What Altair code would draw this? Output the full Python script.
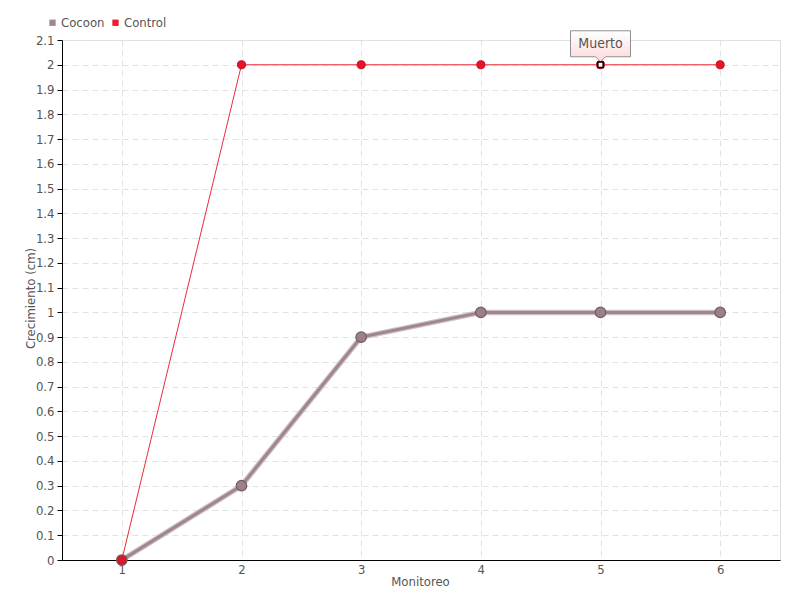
import altair as alt
import pandas as pd

# ---- data ----
monitoreo = [1, 2, 3, 4, 5, 6]
cocoon = [0, 0.3, 0.9, 1, 1, 1]
control = [0, 2, 2, 2, 2, 2]
series = ["Cocoon", "Control"]
series_colors = ["#a0878f", "#ee1c2e"]
y_ticks = [0, 0.1, 0.2, 0.3, 0.4, 0.5, 0.6, 0.7, 0.8, 0.9, 1, 1.1, 1.2, 1.3,
           1.4, 1.5, 1.6, 1.7, 1.8, 1.9, 2, 2.1]
note_x = [5]
note_y = [2]
note_text = ["Muerto"]

df = pd.DataFrame({
    "Monitoreo": monitoreo * 2,
    "Crecimiento": cocoon + control,
    "Serie": ["Cocoon"] * len(monitoreo) + ["Control"] * len(monitoreo),
})
note_df = pd.DataFrame({"Monitoreo": note_x, "Crecimiento": note_y, "txt": note_text})

FONT = "DejaVu Sans Condensed, DejaVu Sans, sans-serif"
TXT = "#555555"

X = alt.X("Monitoreo:O", scale=alt.Scale(type="point", padding=0.5),
          axis=alt.Axis(title="Monitoreo", labelAngle=0, ticks=False,
                        grid=True, gridDash=[6, 4], gridColor="#e2e2e2",
                        domainColor="#000000", labelFontSize=13, labelColor=TXT,
                        labelFont=FONT, labelPadding=3,
                        titleFont=FONT, titleFontSize=13, titleFontWeight="normal",
                        titleColor=TXT, titleX=358, titleY=21,
                        titleBaseline="middle", titleAlign="center"))
Y = alt.Y("Crecimiento:Q", scale=alt.Scale(domain=[0, 2.1], nice=False),
          axis=alt.Axis(title="Crecimiento (cm)", values=y_ticks, format="~g",
                        grid=True, gridDash=[6, 4], gridColor="#e2e2e2",
                        domainColor="#000000", tickColor="#000000", tickSize=5,
                        labelFontSize=13, labelColor=TXT, labelFont=FONT,
                        labelPadding=3,
                        titleFont=FONT, titleFontSize=13, titleFontWeight="normal",
                        titleColor=TXT, titleX=-32, titleY=258, titleAngle=270,
                        titleBaseline="middle", titleAlign="center"))

base = alt.Chart(df).encode(x=X, y=Y)

legend_layer = base.mark_square(size=0, filled=True, opacity=1).encode(
    fill=alt.Fill("Serie:N", scale=alt.Scale(domain=series, range=series_colors),
                  legend=alt.Legend(title=None, orient="none", legendX=-16, legendY=-24,
                                    direction="horizontal", symbolType="square",
                                    symbolSize=40, symbolStrokeWidth=0,
                                    symbolOpacity=1,
                                    labelFont=FONT, labelFontSize=13, labelColor=TXT,
                                    labelOffset=2, columnPadding=4))
)

cocoon_halo = base.transform_filter(alt.datum.Serie == "Cocoon").mark_line(
    color="#cdbfc4", strokeWidth=5.5)
cocoon_line = base.transform_filter(alt.datum.Serie == "Cocoon").mark_line(
    color="#9f858e", strokeWidth=3)
cocoon_pts = base.transform_filter(alt.datum.Serie == "Cocoon").mark_point(
    filled=True, fill="#9c8088", stroke="#6e5a61", strokeWidth=1.2, size=110, opacity=1)

control_line = base.transform_filter(alt.datum.Serie == "Control").mark_line(
    color="#ee2a3a", strokeWidth=1)
control_pts = base.transform_filter(alt.datum.Serie == "Control").mark_point(
    filled=True, fill="#e8132a", stroke="#c0101f", strokeWidth=1, size=65, opacity=1)

box_path = "M-1,-1.133L1,-1.133L1,-0.267L0.167,-0.267L0,-0.1L-0.167,-0.267L-1,-0.267Z"
grad = alt.Gradient(gradient="linear",
                    stops=[alt.GradientStop(color="#ffffff", offset=0),
                           alt.GradientStop(color="#fdd9d9", offset=1)],
                    x1=0, x2=0, y1=0, y2=1)
note_box = alt.Chart(note_df).mark_point(
    shape=box_path, size=3600, filled=True, fill=grad, stroke="#8f8f8f",
    strokeWidth=1, opacity=1).encode(x=X, y=Y)
note_text_layer = alt.Chart(note_df).mark_text(
    font=FONT, fontSize=14, color=TXT, dy=-21, baseline="middle").encode(
    x=X, y=Y, text="txt:N")
note_sq = alt.Chart(note_df).mark_point(
    shape="square", filled=True, fill="#ffffff", stroke="#000000",
    strokeWidth=1.5, size=28, opacity=1).encode(x=X, y=Y)

chart = alt.layer(
    legend_layer, cocoon_halo, cocoon_line, cocoon_pts, control_line, control_pts,
    note_box, note_text_layer, note_sq
).properties(
    width=718, height=520,
    autosize=alt.AutoSizeParams(type="none"),
    padding={"left": 54, "top": 32, "right": 12, "bottom": 32},
).configure_view(stroke=None).configure(background="#ffffff")

chart.save("out.html", embed_options={"renderer": "svg", "actions": False})
